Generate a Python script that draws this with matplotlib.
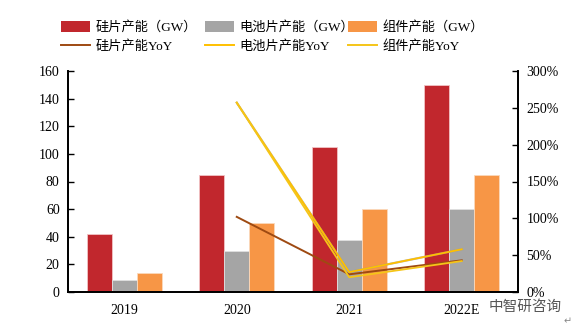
import numpy as np
import matplotlib
matplotlib.use("Agg")
import matplotlib.pyplot as plt
from matplotlib.patches import Patch
from matplotlib.lines import Line2D
from matplotlib.ticker import FuncFormatter

plt.rcParams['font.family'] = ['Liberation Serif', 'Noto Sans CJK SC']

years = ["2019", "2020", "2021", "2022E"]
wafer_cap = [42, 85, 105, 150]
cell_cap = [8.4, 30, 38, 60]
module_cap = [14, 50, 60, 85]

yoy_years = ["2020", "2021", "2022E"]
wafer_yoy = [102, 24, 43]
cell_yoy = [257, 27, 58]
module_yoy = [257, 20, 42]

c_red = "#C1272D"
c_gray = "#A5A5A5"
c_orange = "#F79646"
c_brown = "#9E4A12"
c_gold = "#FFC000"
c_gold2 = "#F5C518"

fig = plt.figure(figsize=(5.77, 3.27), dpi=100)
ax = fig.add_axes([68/577, 1-292/327, 450/577, 221/327])
ax2 = ax.twinx()

x = np.arange(len(years))
w = 0.222
ax.bar(x - w, wafer_cap, w, color=c_red, edgecolor="#F2C4C6", linewidth=0.6, zorder=2)
ax.bar(x, cell_cap, w, color=c_gray, edgecolor="#E0E0E0", linewidth=0.6, zorder=2)
ax.bar(x + w, module_cap, w, color=c_orange, edgecolor="#FBD9BC", linewidth=0.6, zorder=2)

xl = [years.index(y) for y in yoy_years]
ax2.plot(xl, wafer_yoy, color=c_brown, lw=1.4)
ax2.plot(xl, cell_yoy, color="#9A9A9A", lw=1.6, alpha=0.7)
ax2.plot(xl, cell_yoy, color=c_gold, lw=1.3)
ax2.plot(xl, module_yoy, color=c_gold2, lw=1.3)

ax.set_xlim(-0.5, 3.5)
ax.set_ylim(0, 160)
ax.set_yticks(range(0, 161, 20))
ax2.set_ylim(0, 300)
ax2.set_yticks(range(0, 301, 50))
ax2.yaxis.set_major_formatter(FuncFormatter(lambda v, p: "%d%%" % v))
ax.set_xticks(x)
ax.set_xticklabels(years)

for a in (ax, ax2):
    a.spines['top'].set_visible(False)
    for s in ('left', 'right', 'bottom'):
        a.spines[s].set_linewidth(1.3)
        a.spines[s].set_color("black")
ax.tick_params(axis='y', direction='in', length=4, width=1, labelsize=10, pad=6)
ax2.tick_params(axis='y', direction='in', length=4, width=1, labelsize=10, pad=6)
ax.tick_params(axis='x', length=0, labelsize=10, pad=9)

# one legend block per column, placed like the tab stops of the original
cols = [
    (50, [Patch(facecolor=c_red), Line2D([], [], color=c_brown, lw=1.4)],
     ["硅片产能（GW）", "硅片产能YoY"]),
    (194, [Patch(facecolor=c_gray), Line2D([], [], color=c_gold, lw=1.4)],
     ["电池片产能（GW）", "电池片产能YoY"]),
    (337, [Patch(facecolor=c_orange), Line2D([], [], color=c_gold2, lw=1.4)],
     ["组件产能（GW）", "组件产能YoY"]),
]
for xpos, hs, ls in cols:
    fig.legend(hs, ls, ncol=1, loc="upper left", bbox_to_anchor=(xpos/577, 1-10/327),
               frameon=False, handlelength=2.2, handleheight=0.9,
               handletextpad=0.45, labelspacing=0.5, borderpad=0.3,
               prop={'family': ['Liberation Serif', 'Noto Sans CJK SC'], 'size': 9.5})

fig.text(525/577, 1-307/327, "中智研咨询", family="Noto Sans CJK SC", fontsize=10.5,
         color="#555555", ha="center", va="center")
fig.text(568/577, 1-321/327, "↵", family="DejaVu Sans", fontsize=7,
         color="#888888", ha="center", va="center")

fig.savefig("out.png", dpi=100)
